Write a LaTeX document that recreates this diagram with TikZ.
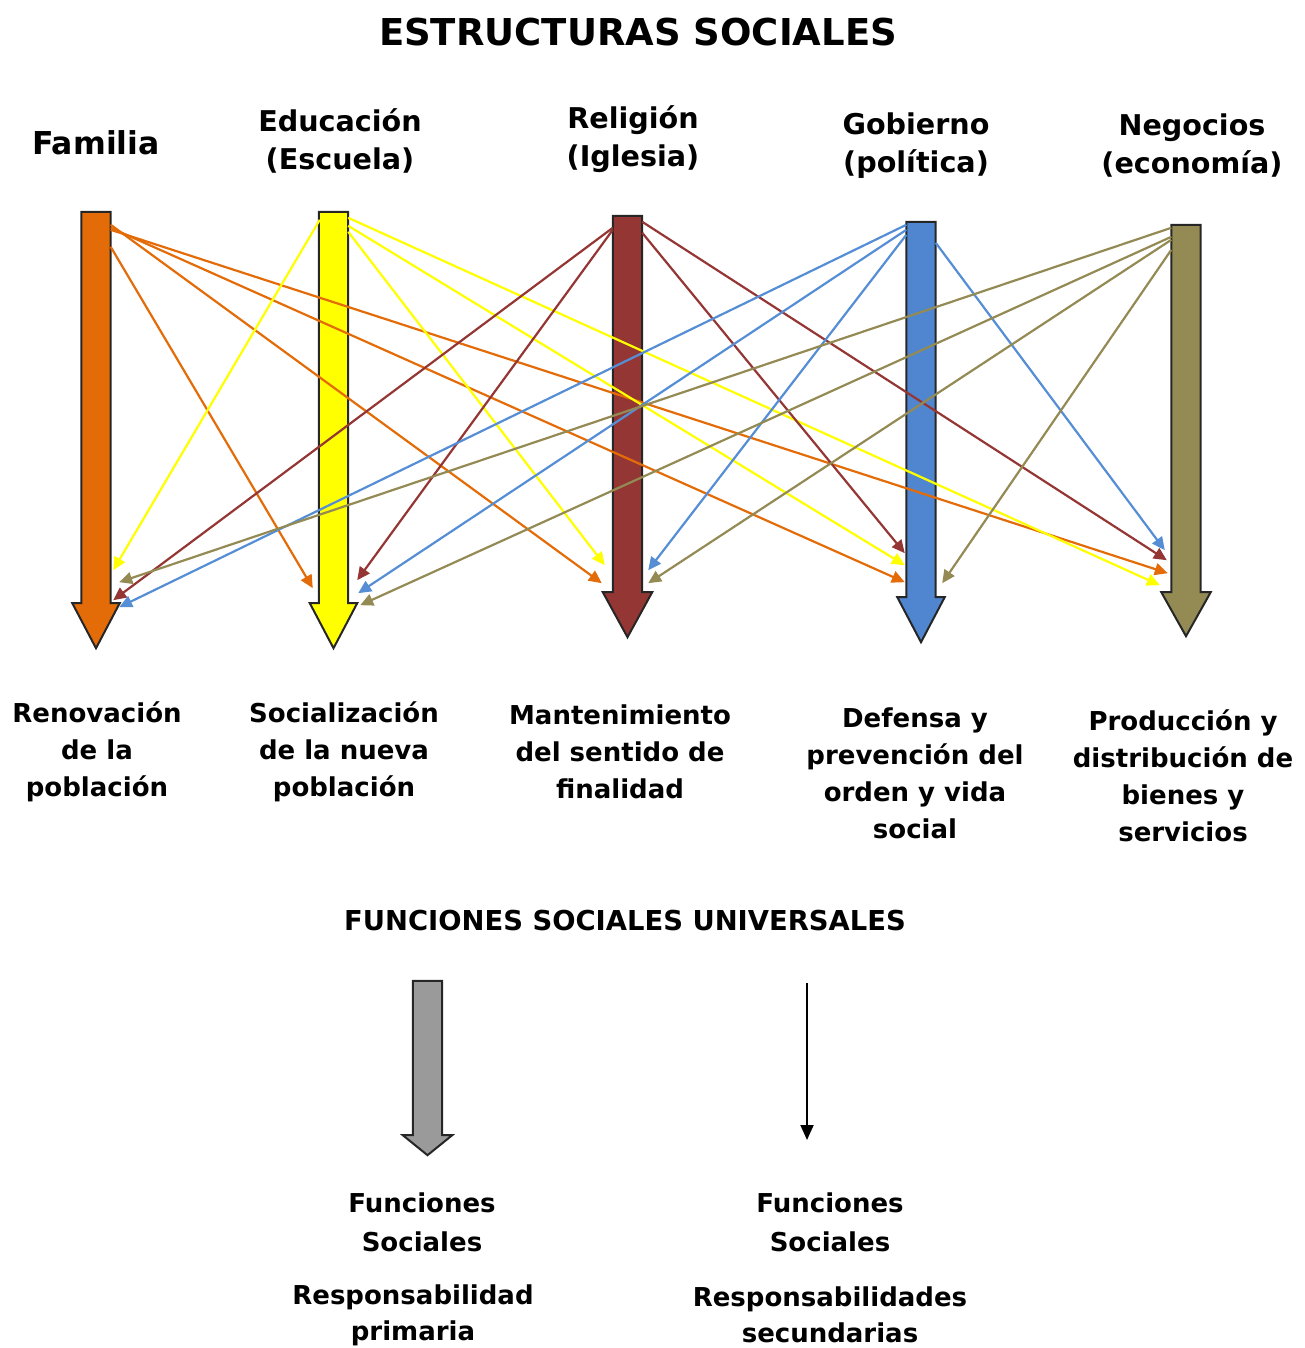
\documentclass[tikz,border=0pt]{standalone}
\usepackage{fontspec}
\setmainfont{DejaVu Sans}
\usepackage{xcolor}
\usepackage{tikz}
\usetikzlibrary{arrows.meta, calc}
\definecolor{famcol}{HTML}{E36C09}
\definecolor{educol}{HTML}{FFFF00}
\definecolor{relcol}{HTML}{943634}
\definecolor{gobcol}{HTML}{4F86CF}
\definecolor{negcol}{HTML}{948A54}
\definecolor{gobline}{HTML}{558ED5}
\definecolor{primcol}{HTML}{9A9A9A}
\tikzstyle{shaft} = [rectangle, minimum width=29pt, inner sep=0pt, draw=none]
\tikzstyle{blockarrow} = [draw=black!85, line width=2pt, line join=miter]
\tikzstyle{linkarrow} = [line width=2.2pt, -{Triangle[length=13pt, width=12pt]}]
\tikzstyle{maintitle} = [font=\bfseries\fontsize{37}{44}\selectfont]
\tikzstyle{colhead} = [align=center, font=\bfseries\fontsize{28.6}{38}\selectfont]
\tikzstyle{func} = [align=center, font=\bfseries\fontsize{26}{37}\selectfont]
\tikzstyle{resp} = [align=center, font=\bfseries\fontsize{26}{37}\selectfont]

\begin{document}
\begin{tikzpicture}[x=1pt, y=-1pt]
    \useasboundingbox (0,0) rectangle (1305,1348);

    \node[maintitle] (title) at (638,32) {ESTRUCTURAS SOCIALES};

    % column headings
    \node[colhead, font=\bfseries\fontsize{31.5}{38}\selectfont] (hfam) at (96,143) {Familia};
    \node[colhead] (hedu) at (340,141) {Educación\\(Escuela)};
    \node[colhead] (hrel) at (633,139) {Religión\\(Iglesia)};
    \node[colhead] (hgob) at (916,146) {Gobierno\\(política)};
    \node[colhead] (hneg) at (1192,146) {Negocios\\(economía)};

    % shafts of the big arrows
    \node[shaft, minimum height=391pt] (fam) at (96,407.5) {};
    \node[shaft, minimum height=391pt] (edu) at (333.5,407.5) {};
    \node[shaft, minimum height=376pt] (rel) at (627.5,404) {};
    \node[shaft, minimum height=375pt] (gob) at (921,409.5) {};
    \node[shaft, minimum height=367pt] (neg) at (1186,408.5) {};

    \draw[blockarrow, fill=famcol] (fam.north west) -- (fam.north east) -- (fam.south east) -- ++(9,0) -- ($(fam.south)+(0,45)$) -- ($(fam.south west)+(-9,0)$) -- (fam.south west) -- cycle;
    \draw[blockarrow, fill=educol] (edu.north west) -- (edu.north east) -- (edu.south east) -- ++(9,0) -- ($(edu.south)+(0,45)$) -- ($(edu.south west)+(-9,0)$) -- (edu.south west) -- cycle;
    \draw[blockarrow, fill=relcol] (rel.north west) -- (rel.north east) -- (rel.south east) -- ++(10,0) -- ($(rel.south)+(0,45)$) -- ($(rel.south west)+(-10,0)$) -- (rel.south west) -- cycle;
    \draw[blockarrow, fill=gobcol] (gob.north west) -- (gob.north east) -- (gob.south east) -- ++(9,0) -- ($(gob.south)+(0,45)$) -- ($(gob.south west)+(-9,0)$) -- (gob.south west) -- cycle;
    \draw[blockarrow, fill=negcol] (neg.north west) -- (neg.north east) -- (neg.south east) -- ++(10,0) -- ($(neg.south)+(0,44)$) -- ($(neg.south west)+(-10,0)$) -- (neg.south west) -- cycle;

    % familia
    \draw[linkarrow, famcol] ([yshift=-35pt]fam.north east) -- ([xshift=-6pt, yshift=15pt]edu.south west);
    \draw[linkarrow, famcol] ([yshift=-13pt]fam.north east) -- ([xshift=-11pt, yshift=9pt]rel.south west);
    \draw[linkarrow, famcol] ([yshift=-16pt]fam.north east) -- ([xshift=-1.5pt, yshift=15pt]gob.south west);
    \draw[linkarrow, famcol] ([yshift=-18pt]fam.north east) -- ([xshift=-3.5pt, yshift=19pt]neg.south west);
    % educacion
    \draw[linkarrow, educol] ([xshift=1pt, yshift=-8pt]edu.north west) -- ([xshift=2.5pt, yshift=33pt]fam.south east);
    \draw[linkarrow, educol] ([yshift=-20pt]edu.north east) -- ([xshift=-8pt, yshift=27pt]rel.south west);
    \draw[linkarrow, educol] ([yshift=-14pt]edu.north east) -- ([xshift=-1.5pt, yshift=32pt]gob.south west);
    \draw[linkarrow, educol] ([yshift=-6pt]edu.north east) -- ([xshift=-11.5pt, yshift=7pt]neg.south west);
    % religion
    \draw[linkarrow, relcol] ([yshift=-12pt]rel.north west) -- ([xshift=2.5pt, yshift=3pt]fam.south east);
    \draw[linkarrow, relcol] ([yshift=-14pt]rel.north west) -- ([xshift=9pt, yshift=23pt]edu.south east);
    \draw[linkarrow, relcol] ([yshift=-17pt]rel.north east) -- ([xshift=-1.5pt, yshift=44pt]gob.south west);
    \draw[linkarrow, relcol] ([yshift=-6pt]rel.north east) -- ([xshift=-4.5pt, yshift=32pt]neg.south west);
    % gobierno
    \draw[linkarrow, gobline] ([yshift=-3pt]gob.north west) -- ([xshift=8.5pt, yshift=-4pt]fam.south east);
    \draw[linkarrow, gobline] ([yshift=-8pt]gob.north west) -- ([xshift=10pt, yshift=10pt]edu.south east);
    \draw[linkarrow, gobline] ([yshift=-13pt]gob.north west) -- ([xshift=6pt, yshift=22pt]rel.south east);
    \draw[linkarrow, gobline] ([yshift=-21pt]gob.north east) -- ([xshift=-6.5pt, yshift=42pt]neg.south west);
    % negocios
    \draw[linkarrow, negcol] ([yshift=-3pt]neg.north west) -- ([xshift=8.5pt, yshift=21pt]fam.south east);
    \draw[linkarrow, negcol] ([yshift=-12pt]neg.north west) -- ([xshift=12pt, yshift=-2pt]edu.south east);
    \draw[linkarrow, negcol] ([yshift=-15pt]neg.north west) -- ([xshift=6pt, yshift=9pt]rel.south east);
    \draw[linkarrow, negcol] ([yshift=-25pt]neg.north west) -- ([xshift=6.5pt, yshift=14pt]gob.south east);

    % funciones
    \node[func] (ffam) at (97,752) {Renovación\\de la\\población};
    \node[func] (fedu) at (344,752) {Socialización\\de la nueva\\población};
    \node[func] (frel) at (620,752) {Mantenimiento\\del sentido de\\finalidad};
    \node[func] (fgob) at (915,773) {Defensa y\\prevención del\\orden y vida\\social};
    \node[func] (fneg) at (1183,776) {Producción y\\distribución de\\bienes y\\servicios};

    \node[resp, font=\bfseries\fontsize{27.4}{37}\selectfont] (univ) at (625,921) {FUNCIONES SOCIALES UNIVERSALES};

    % leyenda
    \node[shaft, minimum height=154pt] (prim) at (427.5,1058) {};
    \draw[blockarrow, fill=primcol] (prim.north west) -- (prim.north east) -- (prim.south east) -- ++(10,0) -- ($(prim.south)+(0,20)$) -- ($(prim.south west)+(-10,0)$) -- (prim.south west) -- cycle;
    \coordinate (sectop) at (807,983);
    \coordinate (secbot) at (807,1140);
    \draw[line width=1.8pt, -{Triangle[length=15pt, width=13pt]}] (sectop) -- (secbot);

    \node[resp, font=\bfseries\fontsize{26}{39}\selectfont] (fsprim) at (422,1222) {Funciones\\Sociales};
    \node[resp, font=\bfseries\fontsize{26}{36}\selectfont] (rprim) at (413,1315) {Responsabilidad\\primaria};
    \node[resp, font=\bfseries\fontsize{26}{39}\selectfont] (fssec) at (830,1222) {Funciones\\Sociales};
    \node[resp, font=\bfseries\fontsize{26}{36}\selectfont] (rsec) at (830,1315) {Responsabilidades\\secundarias};
\end{tikzpicture}
\end{document}
